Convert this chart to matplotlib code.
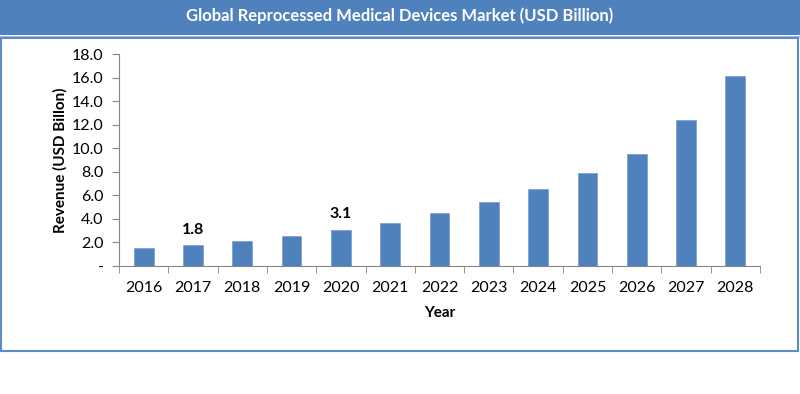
import matplotlib.pyplot as plt
from matplotlib.patches import Rectangle

years = ['2016', '2017', '2018', '2019', '2020', '2021', '2022',
         '2023', '2024', '2025', '2026', '2027', '2028']
revenue = [1.5, 1.78, 2.12, 2.55, 3.09, 3.68, 4.47, 5.41, 6.51, 7.87, 9.51, 12.37, 16.1]
labelled = {'2017': '1.8', '2020': '3.1'}
yticks = [0, 2, 4, 6, 8, 10, 12, 14, 16, 18]

plt.rcParams['font.family'] = ['Lato', 'DejaVu Sans']
blue = '#4F81BD'

fig = plt.figure(figsize=(8, 3.94), dpi=100)

# title banner and outer frame
fig.patches.append(Rectangle((0, 1 - 35 / 394), 1, 35 / 394, transform=fig.transFigure,
                             facecolor=blue, edgecolor='none'))
fig.patches.append(Rectangle((0, 1 - 37.5 / 394), 1, 1.2 / 394, transform=fig.transFigure,
                             facecolor='#A7BFDE', edgecolor='none'))
fig.patches.append(Rectangle((0.6 / 800, 1 - 351 / 394), 797 / 800, 313 / 394,
                             transform=fig.transFigure, facecolor='none',
                             edgecolor='#5B8BC9', linewidth=1.5))
fig.text(0.5, 1 - 16 / 394, 'Global Reprocessed Medical Devices Market (USD Billion)',
         ha='center', va='center', color='white', fontsize=12, fontweight='bold')

ax = fig.add_axes([119 / 800, 1 - 266 / 394, 641 / 800, 212 / 394])
x = range(len(years))
ax.bar(x, revenue, width=0.4, color=blue, edgecolor='#7FA3D3', linewidth=0.6)
for i, yr in enumerate(years):
    if yr in labelled:
        ax.text(i, revenue[i] + 1.3, labelled[yr], ha='center', va='center',
                fontsize=11.5, fontweight='bold')

ax.set_xlim(-0.5, len(years) - 0.5)
ax.set_ylim(0, 18)
ax.set_yticks(yticks)
ax.set_yticklabels(['-'] + ['%.1f' % v for v in yticks[1:]], fontsize=11.5)
ax.set_xticks(x)
ax.set_xticklabels(years, fontsize=11.5)
ax.tick_params(axis='x', length=0, pad=11)
ax.set_xticks([i - 0.5 for i in range(len(years) + 1)], minor=True)
ax.tick_params(axis='x', which='minor', length=5, color='#868686')
ax.tick_params(axis='y', length=5, color='#868686', pad=6)
for s in ['top', 'right']:
    ax.spines[s].set_visible(False)
for s in ['left', 'bottom']:
    ax.spines[s].set_color('#868686')
ax.set_ylabel('Revenue (USD Billon)', fontsize=11, fontweight='bold', labelpad=3)
ax.set_xlabel('Year', fontsize=11, fontweight='bold', labelpad=8)

fig.savefig('out.png', dpi=100)
